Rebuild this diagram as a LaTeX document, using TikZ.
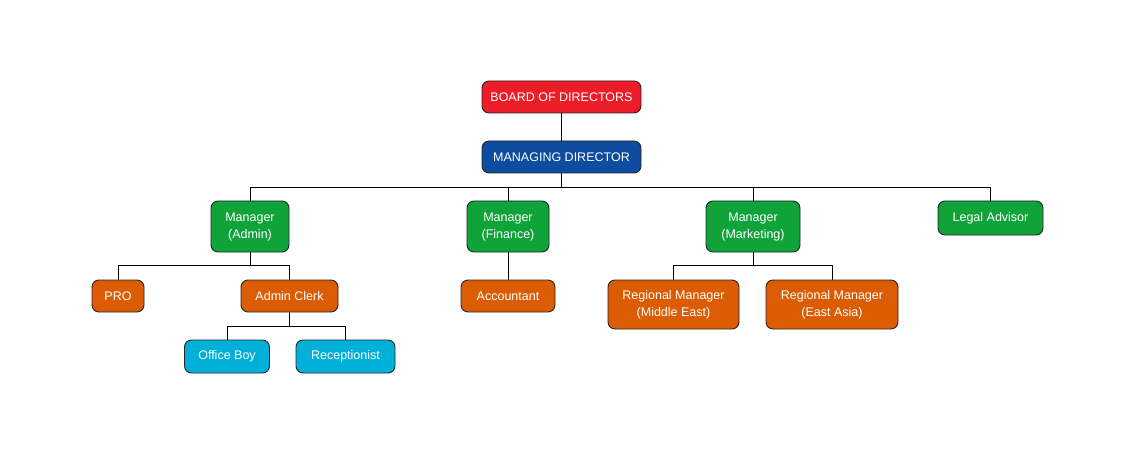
\documentclass[tikz,border=0pt]{standalone}
\usepackage{fontspec}
\setmainfont{Liberation Sans}
\usetikzlibrary{positioning,calc}
\definecolor{boardred}{RGB}{236,28,40}
\definecolor{headblue}{RGB}{14,76,160}
\definecolor{mgrgreen}{RGB}{16,163,58}
\definecolor{staffrust}{RGB}{219,92,2}
\definecolor{assistcyan}{RGB}{0,176,216}
\tikzset{
    boxnode/.style={
        draw=black!85,line width=.9pt,rounded corners=7pt,text=white,align=center,
        inner sep=2pt,font=\fontsize{12.5}{17}\selectfont
    },
    topnode/.style={boxnode,fill=boardred,minimum width=159pt,minimum height=32pt},
    headnode/.style={boxnode,fill=headblue,minimum width=159pt,minimum height=32pt},
    mgrnode/.style={boxnode,fill=mgrgreen,minimum height=51pt},
    staffnode/.style={boxnode,fill=staffrust,minimum height=32pt},
    assistnode/.style={boxnode,fill=assistcyan,minimum height=33pt},
    link/.style={draw=black,line width=.9pt}
}

\begin{document}
\begin{tikzpicture}[x=1pt,y=-1pt]
\useasboundingbox (0,0) rectangle (1144,468);
% top of the chart
\node[topnode] (board) at (561.5,97) {BOARD OF DIRECTORS};
\node[headnode] (md) at (561.5,157) {MANAGING DIRECTOR};
% managers
\node[mgrnode,minimum width=78pt] (admin) at (250,226.5) {Manager\\(Admin)};
\node[mgrnode,minimum width=82pt] (fin) at (508,226.5) {Manager\\(Finance)};
\node[mgrnode,minimum width=94pt] (mkt) at (753,226.5) {Manager\\(Marketing)};
\node[mgrnode,minimum width=105pt,minimum height=34pt] (legal) at (990.5,218) {Legal Advisor};
% staff
\node[staffnode,minimum width=52pt] (pro) at (118,296) {PRO};
\node[staffnode,minimum width=97pt] (clerk) at (289.5,296) {Admin Clerk};
\node[staffnode,minimum width=94pt] (acct) at (508,296) {Accountant};
\node[staffnode,minimum width=131pt,minimum height=49pt] (regme) at (673.5,304.5) {Regional Manager\\(Middle East)};
\node[staffnode,minimum width=132pt,minimum height=49pt] (regea) at (832,304.5) {Regional Manager\\(East Asia)};
\node[assistnode,minimum width=85pt] (boy) at (227,356.5) {Office Boy};
\node[assistnode,minimum width=99pt] (recep) at (345.5,356.5) {Receptionist};
% connectors
\draw[link] (board) -- (md);
\coordinate (mdbus) at ($(md.south)+(0,14)$);
\foreach \n in {admin,fin,mkt,legal}
    \draw[link] (md.south) -- (mdbus) -| (\n.north);
\coordinate (adminbus) at ($(admin.south)+(0,13)$);
\foreach \n in {pro,clerk}
    \draw[link] (admin.south) -- (adminbus) -| (\n.north);
\coordinate (clerkbus) at ($(clerk.south)+(0,14)$);
\foreach \n in {boy,recep}
    \draw[link] (clerk.south) -- (clerkbus) -| (\n.north);
\draw[link] (fin) -- (acct);
\coordinate (mktbus) at ($(mkt.south)+(0,13)$);
\foreach \n in {regme,regea}
    \draw[link] (mkt.south) -- (mktbus) -| (\n.north);
\end{tikzpicture}
\end{document}
